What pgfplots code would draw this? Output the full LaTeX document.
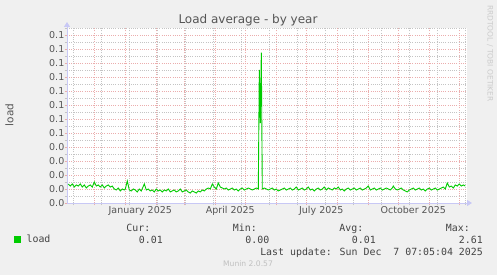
\documentclass[border=0pt]{standalone}
\usepackage{fontspec}
\setmainfont{DejaVu Sans}
\newfontfamily\monof{DejaVu Sans Mono}
\usepackage{pgfplots}
\usepackage{pgfplotstable}
\pgfplotsset{compat=1.18}
\usetikzlibrary{arrows.meta}
\definecolor{bgc}{HTML}{F0F0F0}
\definecolor{txt}{HTML}{555555}
\definecolor{ltxt}{HTML}{444444}
\definecolor{mgrid}{HTML}{EBADAD}
\definecolor{sgrid}{HTML}{C4C4C4}
\definecolor{axc}{HTML}{C8C8F5}
\definecolor{lgreen}{HTML}{00CC00}
\pgfplotstableread{
x y
-57 0.0136
-55 0.0121
-53 0.0136
-51 0.0114
-49 0.0129
-47 0.0121
-45 0.0136
-43 0.0114
-41 0.0129
-39 0.0107
-37 0.0121
-35 0.0129
-33 0.0114
-31 0.0150
-29 0.0121
-27 0.0129
-25 0.0114
-23 0.0129
-21 0.0107
-19 0.0121
-17 0.0129
-15 0.0114
-13 0.0121
-11 0.0100
-9 0.0093
-7 0.0107
-5 0.0086
-3 0.0100
-1 0.0093
0 0.0100
2 0.0157
4 0.0093
6 0.0086
8 0.0100
10 0.0093
12 0.0079
14 0.0100
16 0.0086
19 0.0136
21 0.0093
23 0.0100
25 0.0086
27 0.0093
29 0.0079
31 0.0100
33 0.0086
35 0.0093
37 0.0079
39 0.0093
41 0.0086
43 0.0100
45 0.0079
47 0.0086
49 0.0093
51 0.0079
53 0.0086
55 0.0100
57 0.0079
59 0.0086
61 0.0093
63 0.0079
65 0.0071
67 0.0086
69 0.0079
71 0.0071
73 0.0086
75 0.0079
77 0.0093
79 0.0086
81 0.0100
83 0.0107
85 0.0100
87 0.0136
89 0.0114
91 0.0100
93 0.0143
95 0.0114
97 0.0107
99 0.0100
101 0.0107
103 0.0093
105 0.0100
107 0.0107
109 0.0093
111 0.0100
113 0.0086
115 0.0100
117 0.0107
119 0.0093
121 0.0100
123 0.0107
125 0.0100
127 0.0093
129 0.0100
131 0.0107
133 0.0100
134 0.0950
135 0.0570
136 0.1074
137 0.0100
139 0.0107
141 0.0100
143 0.0093
145 0.0100
147 0.0107
149 0.0093
151 0.0100
153 0.0086
155 0.0093
157 0.0100
159 0.0107
161 0.0093
163 0.0100
165 0.0107
167 0.0093
169 0.0100
171 0.0114
173 0.0093
175 0.0100
177 0.0107
179 0.0093
181 0.0100
183 0.0114
185 0.0093
187 0.0100
189 0.0086
191 0.0100
193 0.0107
195 0.0093
197 0.0100
199 0.0114
201 0.0093
203 0.0107
205 0.0100
207 0.0093
209 0.0107
211 0.0100
213 0.0114
215 0.0093
217 0.0100
219 0.0086
221 0.0100
223 0.0107
225 0.0093
227 0.0100
229 0.0107
231 0.0093
233 0.0100
235 0.0107
237 0.0093
239 0.0100
241 0.0107
243 0.0121
245 0.0093
247 0.0100
249 0.0107
251 0.0093
253 0.0100
255 0.0107
257 0.0093
259 0.0100
261 0.0107
263 0.0100
265 0.0093
267 0.0107
268 0.0121
270 0.0100
272 0.0093
274 0.0100
276 0.0107
278 0.0093
280 0.0086
282 0.0079
284 0.0093
286 0.0100
288 0.0107
290 0.0093
292 0.0100
294 0.0107
296 0.0093
298 0.0100
300 0.0086
302 0.0100
304 0.0107
306 0.0093
308 0.0100
310 0.0107
312 0.0093
314 0.0100
316 0.0107
318 0.0114
320 0.0100
322 0.0143
324 0.0114
326 0.0121
328 0.0107
330 0.0129
332 0.0121
334 0.0136
336 0.0121
338 0.0129
340 0.0121
}\loadtable
\begin{document}
\begin{tikzpicture}[x=1pt,y=1pt]
\path[use as bounding box, fill=bgc] (0,0) rectangle (497,275);
\begin{axis}[
  at={(67pt,72pt)}, anchor=south west,
  scale only axis, width=400pt, height=175pt,
  xmin=-58.3, xmax=341.7, ymin=0, ymax=0.125,
  axis background/.style={fill=white},
  axis x line=bottom, axis y line=left,
  axis line style={draw=axc, line width=0.8pt},
  x axis line style={-{Triangle[length=5pt,width=6pt]}, shorten >=-5pt},
  y axis line style={-{Triangle[length=5pt,width=6pt]}, shorten >=-6pt},
  xtick={-31,0,31,59,90,120,151,181,212,243,273,304,334},
  xticklabels={,,,,,,,,,,,,},
  minor xtick={-52,-24,4,32,60,88,116,144,172,200,228,256,284,312,340},
  ytick={0,0.01,0.02,0.03,0.04,0.05,0.06,0.07,0.08,0.09,0.10,0.11,0.12},
  yticklabels={0.0,0.0,0.0,0.0,0.0,0.1,0.1,0.1,0.1,0.1,0.1,0.1,0.1},
  minor ytick={0.005,0.015,0.025,0.035,0.045,0.055,0.065,0.075,0.085,0.095,0.105,0.115,0.125},
  grid=both,
  major grid style={mgrid, line width=0.7pt, dash pattern=on 1pt off 1.2pt},
  minor grid style={sgrid, line width=0.7pt, dash pattern=on 1pt off 1.2pt},
  tick align=outside,
  major tick length=2.5pt, minor tick length=2.5pt,
  major tick style={mgrid, line width=0.8pt, solid},
  minor tick style={sgrid, line width=0.8pt, solid},
  extra x ticks={15,105,196,288},
  extra x tick labels={January 2025,April 2025,July 2025,October 2025},
  extra x tick style={grid=none, major tick length=0pt},
  ticklabel style={font=\fontsize{9.5}{11}\selectfont, text=txt},
  yticklabel style={anchor=east, inner sep=0pt},
  xticklabel style={anchor=north, inner sep=0pt, yshift=-3pt},
  legend style={at={(-0.1325,-0.2097)}, anchor=west, draw=none, fill=none,
    inner sep=0pt, column sep=3.5pt, font=\monof\fontsize{9.9}{11}\selectfont, text=ltxt},
  legend image code/.code={\fill[lgreen] (0pt,-2.8pt) rectangle (6pt,2.8pt);},
]
\addplot[lgreen, line width=0.9pt] table[x=x,y=y]{\loadtable};
\addlegendentry{load}
\end{axis}
\node[text=txt, font=\fontsize{12}{14}\selectfont, anchor=base] at (248,251.5) {Load average - by year};
\node[text=txt, font=\fontsize{10.5}{12}\selectfont, rotate=90] at (9.5,160) {load};
\node[text={rgb,255:red,204;green,204;blue,204}, font=\fontsize{7.5}{9}\selectfont, rotate=-90, anchor=west, inner sep=0pt] at (490,270) {RRDTOOL / TOBI OETIKER};
\begin{scope}[every node/.style={inner sep=0pt, text=ltxt, font=\monof\fontsize{9.9}{11}\selectfont, anchor=base east}]
\node at (150.5,43.7) {Cur:};
\node at (257,43.7) {Min:};
\node at (363.5,43.7) {Avg:};
\node at (470,43.7) {Max:};
\node at (163,31.7) {0.01};
\node at (269.5,31.7) {0.00};
\node at (376,31.7) {0.01};
\node at (483,31.7) {2.61};
\node at (483,19.7) {Last update: Sun Dec\ \ 7 07:05:04 2025};
\end{scope}
\node[text={rgb,255:red,192;green,192;blue,192}, font=\fontsize{7.6}{9}\selectfont, anchor=base, inner sep=0pt] at (248,8.6) {Munin 2.0.57};
\end{tikzpicture}
\end{document}
